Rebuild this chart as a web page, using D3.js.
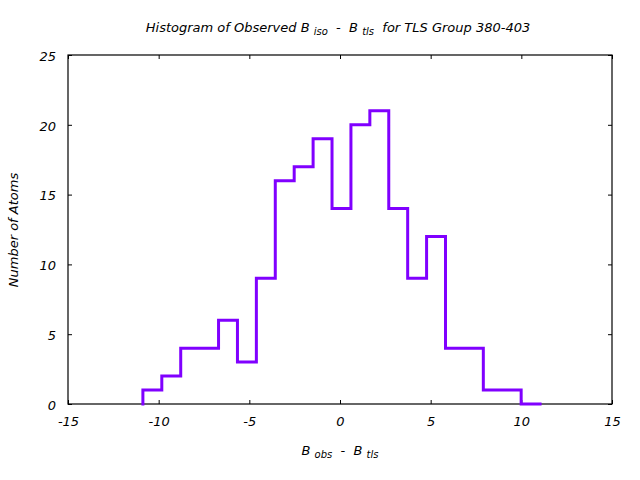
<!DOCTYPE html>
<html>
<head>
<meta charset="utf-8">
<script src="https://cdn.jsdelivr.net/npm/d3@7"></script>
<style>
  body { margin: 0; background: #fff; }
  svg text { font-family: "DejaVu Sans", sans-serif; font-style: italic; fill: #000; white-space: pre; }
</style>
</head>
<body>
<svg width="640" height="480"></svg>
<script>

// bins of B_obs - B_tls (left edges) and their counts
let binStart = -10.87
let binWidth = 1.043
let counts = [1, 2, 4, 4, 6, 3, 9, 16, 17, 19, 14, 20, 21, 14, 9, 12, 4, 4, 1, 1, 0]

let xTicks = [-15, -10, -5, 0, 5, 10, 15]
let yTicks = [0, 5, 10, 15, 20, 25]

let svg = d3.select("svg")

let m = {left: 68, right: 612, top: 55, bottom: 404}

let x = d3.scaleLinear().domain([-15, 15]).range([m.left, m.right])
let y = d3.scaleLinear().domain([0, 25]).range([m.bottom, m.top])

/* Ejes */

let fmt = d => String(d)

let axisB = d3.axisBottom(x).tickValues(xTicks).tickFormat(fmt).tickSizeInner(-4).tickSizeOuter(0).tickPadding(10)
let axisT = d3.axisTop(x).tickValues(xTicks).tickSizeInner(-4).tickSizeOuter(0).tickFormat('')
let axisL = d3.axisLeft(y).tickValues(yTicks).tickFormat(fmt).tickSizeInner(-4).tickSizeOuter(0).tickPadding(12)
let axisR = d3.axisRight(y).tickValues(yTicks).tickSizeInner(-4).tickSizeOuter(0).tickFormat('')

let gb = svg.append("g").attr("transform", `translate(0,${m.bottom})`).call(axisB)
let gt = svg.append("g").attr("transform", `translate(0,${m.top})`).call(axisT)
let gl = svg.append("g").attr("transform", `translate(${m.left},0)`).call(axisL)
let gr = svg.append("g").attr("transform", `translate(${m.right},0)`).call(axisR)

svg.selectAll(".tick text").attr("font-size", 13).style("font-family", '"DejaVu Sans", sans-serif').style("font-style", "italic")
gl.selectAll(".tick text").attr("dy", "0.4em")
gb.selectAll(".tick text").attr("dy", "0.9em")
svg.selectAll(".domain").remove()
svg.selectAll(".tick line").attr("stroke", "#000")

/* Histograma */

let pts = [[binStart, 0]]
counts.forEach((c, i) => {
  pts.push([binStart + i * binWidth, c])
  pts.push([binStart + (i + 1) * binWidth, c])
})

let line = d3.line().x(d => x(d[0])).y(d => y(d[1]))

// borde
svg.append("rect")
  .attr("x", m.left).attr("y", m.top)
  .attr("width", m.right - m.left).attr("height", m.bottom - m.top)
  .attr("fill", "none").attr("stroke", "#000").attr("stroke-width", 1.2)

svg.append("path")
  .attr("d", line(pts))
  .attr("fill", "none")
  .attr("stroke", "#8000ff")
  .attr("stroke-width", 3)
  .attr("stroke-linejoin", "miter")
  .attr("stroke-linecap", "square")

/* Textos */

let title = svg.append("text")
  .attr("x", 338).attr("y", 32)
  .attr("text-anchor", "middle")
  .attr("font-size", 13)
title.append("tspan").text("Histogram of Observed B ")
title.append("tspan").text("iso").attr("font-size", 10).attr("dy", 3)
title.append("tspan").text("  -  B ").attr("dy", -3)
title.append("tspan").text("tls").attr("font-size", 10).attr("dy", 3)
title.append("tspan").text("  for TLS Group 380-403").attr("dy", -3)

let xl = svg.append("text")
  .attr("x", 340).attr("y", 455)
  .attr("text-anchor", "middle")
  .attr("font-size", 13)
xl.append("tspan").text("B ")
xl.append("tspan").text("obs").attr("font-size", 10).attr("dy", 3)
xl.append("tspan").text("  -  B ").attr("dy", -3)
xl.append("tspan").text("tls").attr("font-size", 10).attr("dy", 3)

svg.append("text")
  .attr("transform", "translate(18,230) rotate(-90)")
  .attr("text-anchor", "middle")
  .attr("font-size", 13)
  .text("Number of Atoms")

</script>
</body>
</html>
